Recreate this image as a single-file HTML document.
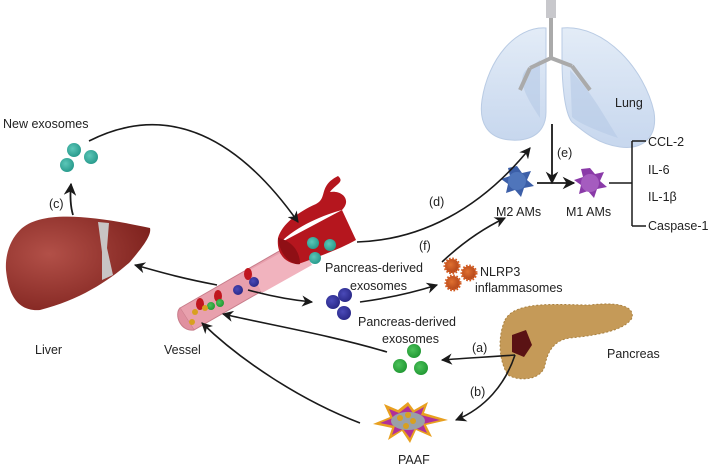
<!DOCTYPE html>
<html><head><meta charset="utf-8"><style>
html,body{margin:0;padding:0;background:#fff;width:720px;height:468px;overflow:hidden}
svg{display:block}
text{font-family:"Liberation Sans",sans-serif;font-size:12.5px;fill:#222}
</style></head><body>
<svg width="720" height="468" viewBox="0 0 720 468" xmlns="http://www.w3.org/2000/svg">
<defs>
<marker id="ah" viewBox="0 0 10 10" refX="9" refY="5" markerWidth="7" markerHeight="7" orient="auto-start-reverse"><path d="M0,0 L10,5 L0,10 L3,5 z" fill="#1a1a1a"/></marker>
<radialGradient id="liv" cx="0.3" cy="0.4" r="0.8"><stop offset="0" stop-color="#b25048"/><stop offset="1" stop-color="#7a1e1a"/></radialGradient>
<radialGradient id="teal" cx="0.4" cy="0.4" r="0.6"><stop offset="0" stop-color="#5cc7b8"/><stop offset="1" stop-color="#2a9c8e"/></radialGradient>
<radialGradient id="blue" cx="0.4" cy="0.4" r="0.6"><stop offset="0" stop-color="#4a4ab8"/><stop offset="1" stop-color="#2b2a8a"/></radialGradient>
<radialGradient id="green" cx="0.4" cy="0.4" r="0.6"><stop offset="0" stop-color="#4cc25a"/><stop offset="1" stop-color="#239a35"/></radialGradient>
<radialGradient id="org" cx="0.4" cy="0.4" r="0.6"><stop offset="0" stop-color="#e07030"/><stop offset="1" stop-color="#b2451a"/></radialGradient>
<linearGradient id="lung" x1="0" y1="0" x2="0" y2="1"><stop offset="0" stop-color="#e3ecf7"/><stop offset="1" stop-color="#c7d7ee"/></linearGradient>
</defs>

<!-- Lung -->
<path d="M546,28 C515,26 488,60 482,100 C478,128 492,142 520,140 C537,138 546,128 546,112 Z" fill="url(#lung)" stroke="#b9cbe4"/>
<path d="M562,28 C605,24 645,70 654,112 C658,138 642,150 620,147 C598,144 584,132 572,122 C564,112 562,80 562,60 Z" fill="url(#lung)" stroke="#b9cbe4"/>
<path d="M540,118 C528,100 516,80 526,70 L540,60 Z" fill="#b5c9e6" opacity="0.6"/>
<path d="M570,70 C590,90 602,112 618,138 C600,132 580,124 572,117 Z" fill="#b5c9e6" opacity="0.6"/>
<rect x="546" y="0" width="10" height="18" fill="#c8c8cc"/>
<path d="M551,18 L551,58 L530,68 M551,58 L572,66 M530,68 L520,90 M572,66 L590,90" stroke="#aaa" stroke-width="4" fill="none"/>
<text x="615" y="107">Lung</text>

<!-- (e) -->
<line x1="552" y1="124" x2="552" y2="183" stroke="#1a1a1a" stroke-width="1.8" marker-end="url(#ah)"/>
<text x="557" y="157">(e)</text>

<!-- M2 / M1 -->
<polygon points="517,166 522,173 531,171 527,180 534,186 524,188 521,197 515,190 506,193 508,184 501,179 510,176 508,168" fill="#3c5fa8"/>
<circle cx="517" cy="181" r="9" fill="#4f75bb"/>
<polygon points="590,168 595,174 604,172 600,181 607,187 597,189 594,198 588,191 579,194 581,185 574,180 583,177 581,169" fill="#8a3aa8"/>
<circle cx="590" cy="183" r="9" fill="#a55cbf"/>
<line x1="537" y1="183" x2="574" y2="183" stroke="#1a1a1a" stroke-width="1.8" marker-end="url(#ah)"/>
<text x="496" y="216">M2 AMs</text>
<text x="566" y="216">M1 AMs</text>
<path d="M609,183 L632,183 M632,141 L632,226 M632,141 L646,141 M632,226 L646,226" stroke="#1a1a1a" stroke-width="1.5" fill="none"/>
<text x="648" y="146">CCL-2</text>
<text x="648" y="174">IL-6</text>
<text x="648" y="201">IL-1β</text>
<text x="648" y="230">Caspase-1</text>

<!-- New exosomes -->
<text x="3" y="128">New exosomes</text>
<circle cx="74" cy="150" r="7" fill="url(#teal)"/>
<circle cx="67" cy="165" r="7" fill="url(#teal)"/>
<circle cx="91" cy="157" r="7" fill="url(#teal)"/>

<!-- Liver -->
<path d="M20,230 C40,210 90,215 150,228 C152,236 140,250 130,262 C110,280 80,300 40,310 C15,312 8,290 6,270 C5,255 10,240 20,230 Z" fill="url(#liv)"/>
<path d="M98,222 L109,223 L107,248 L113,275 L102,280 L102,252 Z" fill="#c8c4c4"/>
<path d="M73,215 C70,205 70,195 71,184" stroke="#1a1a1a" stroke-width="1.8" fill="none" marker-end="url(#ah)"/>
<text x="49" y="208">(c)</text>
<text x="35" y="354">Liver</text>
<text x="164" y="354">Vessel</text>

<!-- Vessel -->
<path d="M180,308 L288,246 L302,268 L194,330 Z" fill="#e8a0ad" stroke="#c77c8a"/>
<path d="M180,308 C174,314 180,332 194,330" fill="#e090a0" stroke="#c77c8a"/>
<path d="M250,270 L300,242 L312,265 L262,293 Z" fill="#f1b3be"/>
<path d="M280,243 C296,226 326,214 342,210 C352,200 342,190 330,192 C336,184 345,182 338,176 C318,186 328,198 316,204 C298,212 282,224 278,238 C276,256 288,264 298,264 C316,258 342,248 356,240 L342,210 Z" fill="#b5161e"/>
<path d="M278,238 C280,258 294,266 300,264 C300,250 290,240 278,238 Z" fill="#8f0f15"/>
<circle cx="313" cy="243" r="6" fill="url(#teal)"/>
<circle cx="330" cy="245" r="6" fill="url(#teal)"/>
<circle cx="315" cy="258" r="6" fill="url(#teal)"/>
<circle cx="254" cy="282" r="5" fill="url(#blue)"/>
<circle cx="238" cy="290" r="5" fill="url(#blue)"/>
<ellipse cx="248" cy="274" rx="4" ry="6" fill="#c0161e"/>
<ellipse cx="218" cy="296" rx="4" ry="6" fill="#c0161e"/>
<ellipse cx="200" cy="304" rx="4" ry="6" fill="#c0161e"/>
<circle cx="211" cy="306" r="4" fill="url(#green)"/>
<circle cx="220" cy="303" r="4" fill="url(#green)"/>
<circle cx="195" cy="312" r="3" fill="#d8a020"/>
<circle cx="192" cy="322" r="3" fill="#d8a020"/>
<circle cx="205" cy="308" r="3" fill="#d8a020"/>

<!-- arrow into vessel (drawn on top) -->
<path d="M89,141 C170,100 240,140 298,222" stroke="#1a1a1a" stroke-width="1.6" fill="none" marker-end="url(#ah)"/>

<!-- arrows around vessel -->
<path d="M217,285 C180,278 160,272 135,265" stroke="#1a1a1a" stroke-width="1.6" fill="none" marker-end="url(#ah)"/>
<path d="M248,290 C270,296 290,300 312,302" stroke="#1a1a1a" stroke-width="1.6" fill="none" marker-end="url(#ah)"/>
<path d="M357,242 C420,240 480,210 530,148" stroke="#1a1a1a" stroke-width="1.6" fill="none" marker-end="url(#ah)"/>
<text x="429" y="206">(d)</text>

<!-- Pancreas-derived exosomes (blue) -->
<circle cx="333" cy="302" r="7" fill="url(#blue)"/>
<circle cx="345" cy="295" r="7" fill="url(#blue)"/>
<circle cx="344" cy="313" r="7" fill="url(#blue)"/>
<text x="325" y="272">Pancreas-derived</text>
<text x="350" y="290">exosomes</text>
<path d="M360,302 C390,298 415,292 437,285" stroke="#1a1a1a" stroke-width="1.6" fill="none" marker-end="url(#ah)"/>

<!-- NLRP3 -->
<g fill="url(#org)" stroke="#d05a20" stroke-width="3" stroke-dasharray="1.5 1.5">
<circle cx="452" cy="266" r="7"/><circle cx="469" cy="273" r="7"/><circle cx="453" cy="283" r="7"/></g>
<text x="480" y="276">NLRP3</text>
<text x="475" y="292">inflammasomes</text>
<path d="M442,262 C460,245 480,230 505,218" stroke="#1a1a1a" stroke-width="1.6" fill="none" marker-end="url(#ah)"/>
<text x="419" y="250">(f)</text>

<!-- Pancreas -->
<path d="M505,320 C515,300 560,305 590,305 C615,302 635,305 632,318 C625,330 600,335 570,338 C555,340 548,350 545,365 C542,380 520,382 508,375 C498,360 498,335 505,320 Z" fill="#c59a58" stroke="#a9803f" stroke-dasharray="2 2"/>
<path d="M512,335 L526,330 L532,345 L524,357 L512,352 Z" fill="#5a1214"/>
<text x="607" y="358">Pancreas</text>

<!-- green exosomes -->
<text x="358" y="326">Pancreas-derived</text>
<text x="382" y="343">exosomes</text>
<circle cx="414" cy="351" r="7" fill="url(#green)"/>
<circle cx="400" cy="366" r="7" fill="url(#green)"/>
<circle cx="421" cy="368" r="7" fill="url(#green)"/>
<path d="M515,355 C490,357 465,358 442,360" stroke="#1a1a1a" stroke-width="1.6" fill="none" marker-end="url(#ah)"/>
<text x="472" y="352">(a)</text>
<path d="M515,355 C505,385 485,408 456,420" stroke="#1a1a1a" stroke-width="1.6" fill="none" marker-end="url(#ah)"/>
<text x="470" y="396">(b)</text>
<path d="M387,352 C330,335 270,325 223,314" stroke="#1a1a1a" stroke-width="1.6" fill="none" marker-end="url(#ah)"/>
<path d="M360,423 C300,400 240,360 202,323" stroke="#1a1a1a" stroke-width="1.6" fill="none" marker-end="url(#ah)"/>

<!-- PAAF -->
<polygon points="408,402 414,410 428,402 424,413 448,420 426,425 432,437 416,430 410,443 402,431 388,440 392,428 373,424 390,417 384,404 398,410" fill="#e8a020"/>
<polygon points="408,406 413,413 424,407 421,415 440,420 423,424 427,433 415,428 410,438 403,429 392,435 395,426 380,423 393,418 389,409 399,413" fill="#b0309a"/>
<ellipse cx="408" cy="421" rx="17" ry="9" fill="#9aa0a8"/>
<circle cx="400" cy="418" r="3" fill="#d8a020"/><circle cx="408" cy="415" r="3" fill="#d8a020"/><circle cx="413" cy="421" r="3" fill="#d8a020"/><circle cx="406" cy="426" r="3" fill="#d8a020"/>
<text x="398" y="464">PAAF</text>
</svg>
</body></html>
